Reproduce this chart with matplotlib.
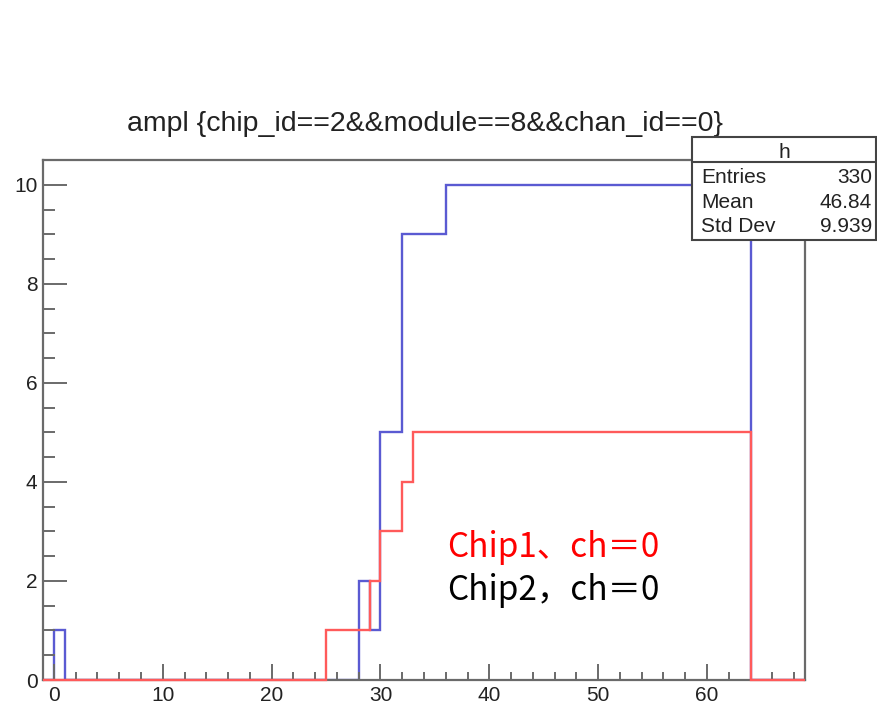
import matplotlib.pyplot as plt
from matplotlib.patches import Rectangle
from matplotlib.ticker import MultipleLocator

# histogram outlines as (bin edges, bin contents), unit bins merged into runs
chip2_edges = [-1, 0, 1, 28, 29, 30, 32, 36, 64, 69]
chip2_counts = [0, 1, 0, 2, 1, 5, 9, 10, 0]
chip1_edges = [-1, 25, 29, 30, 32, 33, 64, 69]
chip1_counts = [0, 1, 2, 3, 4, 5, 0]

stat_names = ["Entries", "Mean", "Std Dev"]
stat_values = ["330", "46.84", "9.939"]

W, H = 877, 701
fig = plt.figure(figsize=(W / 100, H / 100), dpi=100)
ax = fig.add_axes([43 / W, (H - 680) / H, (805 - 43) / W, (680 - 160) / H])

# blue sits under the frame, red is drawn over it
ax.stairs(chip2_counts, chip2_edges, color="#5a5ad2", lw=1.7, zorder=1.5)
ax.stairs(chip1_counts, chip1_edges, color="#ff5a5a", lw=1.7, zorder=4, clip_on=False)

ax.set_xlim(-1, 69)
ax.set_ylim(0, 10.5)
ax.xaxis.set_major_locator(MultipleLocator(10))
ax.xaxis.set_minor_locator(MultipleLocator(2))
ax.yaxis.set_major_locator(MultipleLocator(2))
ax.yaxis.set_minor_locator(MultipleLocator(0.5))

gray = "#6a6a6a"
for s in ax.spines.values():
    s.set_color(gray)
    s.set_linewidth(1.6)
    s.set_zorder(2)
ax.tick_params(axis="both", which="both", direction="in", color=gray, width=1.4,
               labelsize=15, labelcolor="#222222")
ax.tick_params(axis="y", which="major", length=17, pad=4)
ax.tick_params(axis="y", which="minor", length=8.5)
ax.tick_params(axis="x", which="major", length=11.5, pad=4)
ax.tick_params(axis="x", which="minor", length=5.8)
for lab in ax.get_xticklabels() + ax.get_yticklabels():
    lab.set_family("Liberation Sans")

fig.text(425 / W, (H - 131) / H, "ampl {chip_id==2&&module==8&&chan_id==0}",
         ha="center", va="baseline", fontsize=20.5, family="Liberation Sans",
         color="#222222")

# labels for the two channels
cjk = ["Noto Sans CJK JP", "DejaVu Sans"]
ax.text(36.1, 2.48, "Chip1、ch＝0", color="red", fontsize=24, family=cjk,
        va="baseline", ha="left", zorder=6)
ax.text(36.1, 1.61, "Chip2，ch＝0", color="black", fontsize=24, family=cjk,
        va="baseline", ha="left", zorder=6)

# stats box
bx0, bx1, by_top, by_sep, by_bot = 692, 876, 137, 162, 240
fig.patches.append(Rectangle((bx0 / W, (H - by_bot) / H), (bx1 - bx0) / W,
                             (by_bot - by_top) / H, transform=fig.transFigure,
                             facecolor="white", edgecolor="#444444", lw=1.5,
                             zorder=5))
fig.add_artist(plt.Line2D([bx0 / W, bx1 / W], [(H - by_sep) / H] * 2,
                          transform=fig.transFigure, color="#444444", lw=1.5,
                          zorder=6))
fig.text((bx0 + bx1) / 2 / W, (H - 158) / H, "h", ha="center", va="baseline",
         fontsize=15, family="Liberation Sans", color="#222222", zorder=7)
for i, (name, val) in enumerate(zip(stat_names, stat_values)):
    yb = (H - (183 + 24.5 * i)) / H
    fig.text(701 / W, yb, name, ha="left", va="baseline", fontsize=15,
             family="Liberation Sans", color="#222222", zorder=7)
    fig.text(872 / W, yb, val, ha="right", va="baseline", fontsize=15,
             family="Liberation Sans", color="#222222", zorder=7)

fig.savefig("out.png", dpi=100)
